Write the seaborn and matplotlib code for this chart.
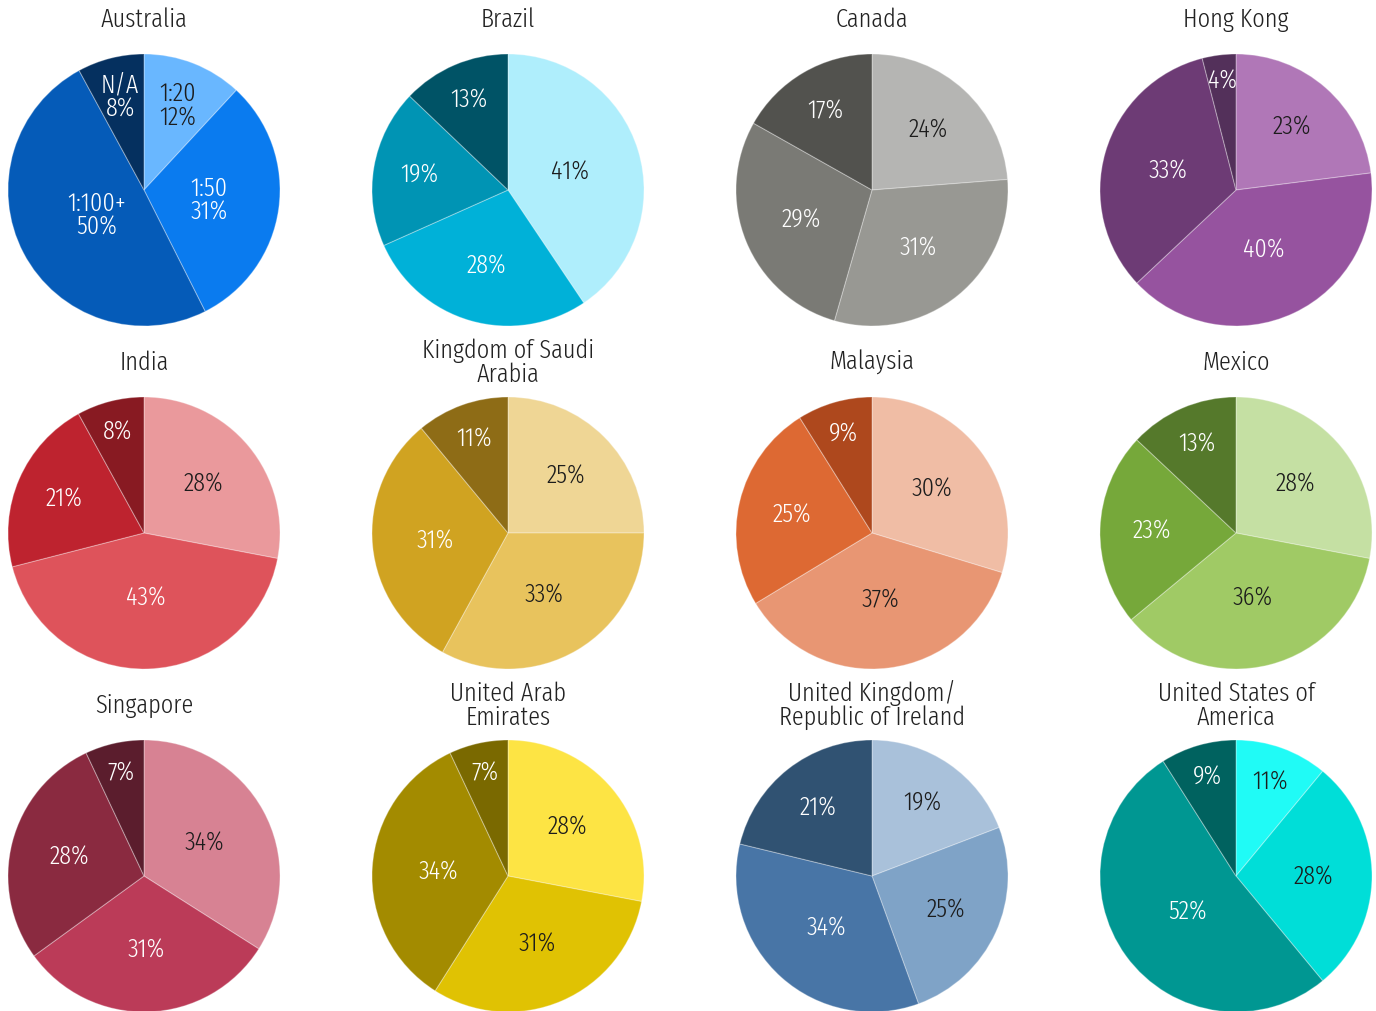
import matplotlib
matplotlib.use("Agg")
import numpy as np
import matplotlib.pyplot as plt
import seaborn as sns

# Share of respondents by ratio bucket, per market (percent, clockwise from 12 o'clock)
categories = ["1:20", "1:50", "1:100+", "N/A"]

countries = [
    "Australia", "Brazil", "Canada", "Hong Kong",
    "India", "Kingdom of Saudi\nArabia", "Malaysia", "Mexico",
    "Singapore", "United Arab\nEmirates", "United Kingdom/\nRepublic of Ireland",
    "United States of\nAmerica",
]

australia = [12, 31, 50, 8]
brazil = [41, 28, 19, 13]
canada = [24, 31, 29, 17]
hong_kong = [23, 40, 33, 4]
india = [28, 43, 21, 8]
saudi_arabia = [25, 33, 31, 11]
malaysia = [30, 37, 25, 9]
mexico = [28, 36, 23, 13]
singapore = [34, 31, 28, 7]
uae = [28, 31, 34, 7]
uk_ireland = [19, 25, 34, 21]
usa = [11, 28, 52, 9]

shares = [australia, brazil, canada, hong_kong, india, saudi_arabia,
          malaysia, mexico, singapore, uae, uk_ireland, usa]

# One shaded palette per market, light to dark
palettes = [
    ["#69B7FF", "#0A7BEF", "#055BB8", "#05305F"],
    ["#AFEEFC", "#00B1D8", "#0094B4", "#005366"],
    ["#B5B5B3", "#989893", "#7A7A75", "#52524E"],
    ["#B077B7", "#96539F", "#6D3B75", "#53305A"],
    ["#EA999C", "#DE535B", "#BE232F", "#881A22"],
    ["#EFD695", "#E8C35D", "#D0A321", "#8E6C16"],
    ["#F0BDA5", "#E89673", "#DD6933", "#AE481D"],
    ["#C5E0A3", "#A0CA65", "#76A83A", "#55792B"],
    ["#D78293", "#BB3B58", "#8A2A40", "#5B1D2D"],
    ["#FDE444", "#E0C203", "#A38B00", "#7A6900"],
    ["#A9C1DA", "#7FA3C7", "#4875A6", "#305272"],
    ["#20FBF6", "#00DED8", "#009792", "#00625F"],
]
# How many of the lightest slices carry dark label text
dark_ink = [1, 1, 1, 1, 1, 2, 2, 2, 1, 2, 2, 2]

sns.set_theme(style="white")
plt.rcParams["font.family"] = ["Fira Sans Extra Condensed", "DejaVu Sans"]
plt.rcParams["font.weight"] = 300

W, H, DPI = 1376, 1012, 100
fig = plt.figure(figsize=(W / DPI, H / DPI), dpi=DPI)

col_x = [144, 508, 872, 1236]
row_y = [191, 534, 877]
R = 136
DARK = "#1c1c1c"
FS = 19

for i, (name, vals, pal) in enumerate(zip(countries, shares, palettes)):
    cx, cy = col_x[i % 4], row_y[i // 4]
    ax = fig.add_axes([(cx - R) / W, 1 - (cy + R) / H, 2 * R / W, 2 * R / H])
    wedges, _ = ax.pie(
        vals, colors=pal, startangle=90, counterclock=False, radius=1,
        wedgeprops=dict(edgecolor=(1, 1, 1, 0.3), linewidth=0.8),
    )
    ax.set_xlim(-1, 1)
    ax.set_ylim(-1, 1)
    ax.set_aspect("equal")
    ax.axis("off")

    total = float(sum(vals))
    for k, (w, v) in enumerate(zip(wedges, vals)):
        p = v / total
        d = max(0.85 - 1.0 * p, 0.6 - 0.3 * p)
        if i == 0:
            d -= 0.06  # two-line labels sit a little further in
        ang = np.deg2rad((w.theta1 + w.theta2) / 2)
        txt = f"{categories[k]}\n{v}%" if i == 0 else f"{v}%"
        ax.text(d * np.cos(ang), d * np.sin(ang), txt, ha="center", va="center",
                fontsize=FS, fontweight=300, linespacing=0.95,
                color=DARK if k < dark_ink[i] else "white")

    # Title above each pie, lines stacked upward from the pie top
    lines = name.split("\n")
    top = cy - R
    base = top - (28 if len(lines) == 1 else 16)
    for j, line in enumerate(reversed(lines)):
        fig.text(cx / W, 1 - (base - 24 * j) / H, line, ha="center", va="baseline",
                 fontsize=FS, fontweight=300, color="#222222")

fig.savefig("out.png", dpi=DPI)
